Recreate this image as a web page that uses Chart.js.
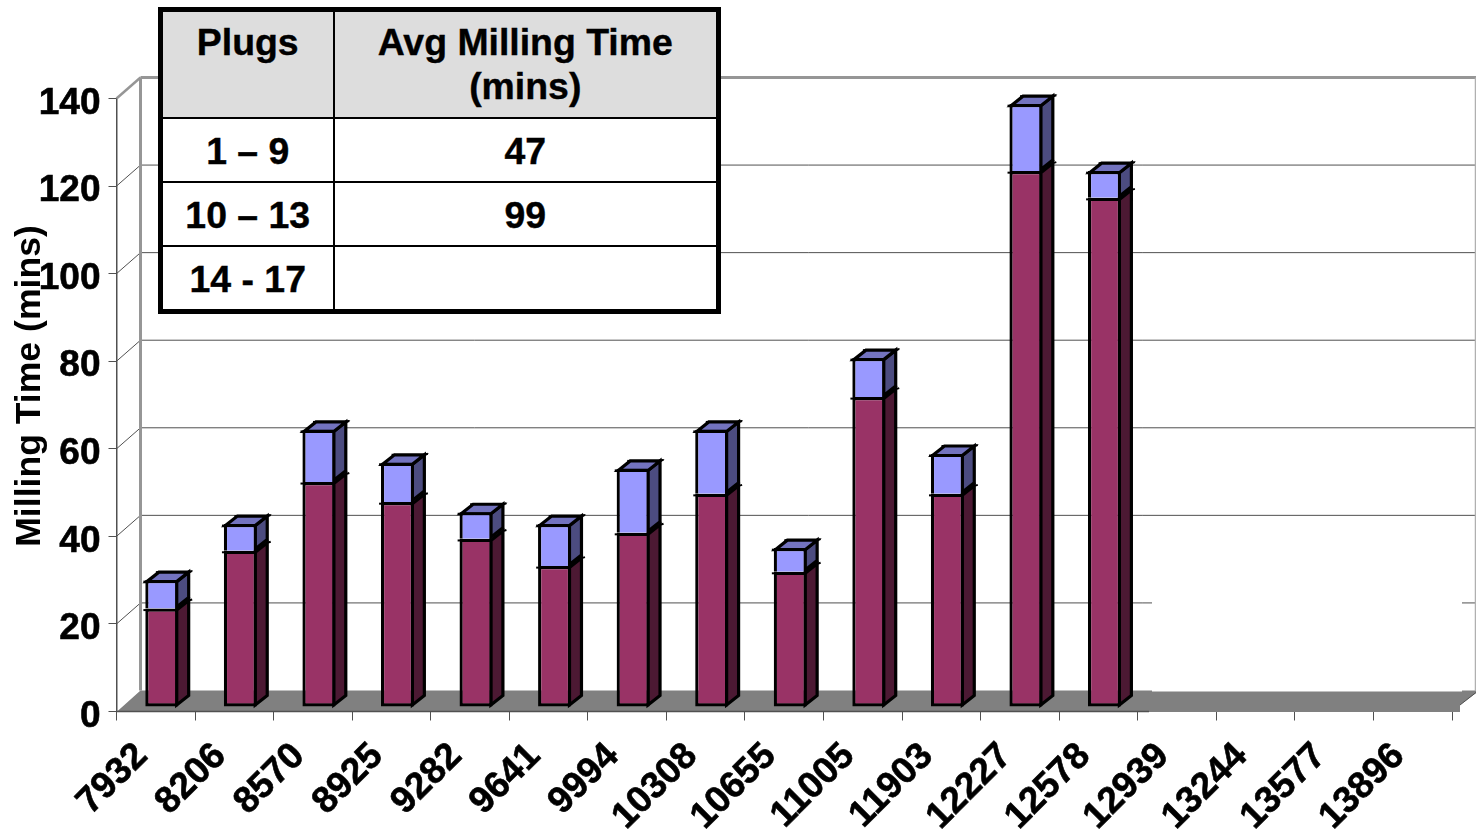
<!DOCTYPE html>
<html>
<head>
<meta charset="utf-8">
<title>Milling Time</title>
<script src="https://cdn.jsdelivr.net/npm/chart.js@4"></script>
<style>
  body { margin: 0; background: #fff; width: 1476px; height: 834px; overflow: hidden; position: relative; }
  canvas { position: absolute; left: 0; top: 0; }
  #plugTable {
    position: absolute; left: 158px; top: 7px; width: 563px;
    box-sizing: border-box; border-collapse: collapse; table-layout: fixed;
    border: 5px solid #000; background: #fff;
    font: bold 37.4px "Liberation Sans", Arial, sans-serif; color: #000; text-align: center;
    -webkit-text-stroke: 0.4px #000;
  }
  #plugTable td, #plugTable th { border: 2.5px solid #000; padding: 0; line-height: 44px; }
  #plugTable th { background: #ddd; vertical-align: top; padding-top: 8px; height: 108px; box-sizing: border-box; }
  #plugTable td { height: 64px; box-sizing: border-box; padding-top: 2px; }
  #plugTable tr:last-child td { height: 66px; }
  #plugTable .col1 { width: 173px; }
</style>
</head>
<body>
<canvas id="myChart" width="1476" height="834"></canvas>
<table id="plugTable"></table>
<script>
// === Data ===
const plugNumbers = ['7932', '8206', '8570', '8925', '9282', '9641', '9994', '10308', '10655', '11005', '11903', '12227', '12578', '12939', '13244', '13577', '13896'];
const lowerTime = [22.5, 35.7, 51.4, 46.8, 38.4, 32.2, 39.8, 48.7, 30.9, 70.8, 48.7, 122.4, 116.3, null, null, null, null];
const upperTime = [6.5, 6.1, 11.9, 9, 6.1, 9.6, 14.6, 14.6, 5.4, 8.9, 9.1, 15.3, 6.1, null, null, null, null];
const yAxisTitle = 'Milling Time (mins)';
const tableHead = ['Plugs', 'Avg Milling Time<br>(mins)'];
const tableRanges = ['1 – 9', '10 – 13', '14 - 17'];
const tableAvg = ['47', '99', ''];

// === Colors and 3D depth ===
const fontFamily = '"Liberation Sans", Arial, sans-serif';
const wallDx = 24, wallDy = -21;      // back wall offset
const barDx = 12, barDy = -9.5;       // bar depth
const barEdge = 3.2;
const gridDark = '#505050', wallGray = '#969696', floorGray = '#808080';
const faces = [
  { side: '#4c1933', top: '#732650' },
  { side: '#4c4c80', top: '#7373bf' }
];

// Table
document.getElementById('plugTable').innerHTML =
  '<tr><th class="col1">' + tableHead[0] + '</th><th>' + tableHead[1] + '</th></tr>' +
  tableRanges.map((r, i) => '<tr><td>' + r + '</td><td>' + tableAvg[i] + '</td></tr>').join('');

function line(ctx, x1, y1, x2, y2, color, width) {
  ctx.strokeStyle = color;
  ctx.lineWidth = width;
  ctx.beginPath();
  ctx.moveTo(x1, y1);
  ctx.lineTo(x2, y2);
  ctx.stroke();
}

function poly(ctx, pts, fill, stroke) {
  ctx.beginPath();
  pts.forEach((p, i) => i ? ctx.lineTo(p[0], p[1]) : ctx.moveTo(p[0], p[1]));
  ctx.closePath();
  ctx.fillStyle = fill;
  ctx.fill();
  if (stroke) {
    ctx.strokeStyle = stroke;
    ctx.lineWidth = barEdge;
    ctx.lineJoin = 'miter';
    ctx.stroke();
  }
}

// Walls, floor and grid behind the bars
const wallPlugin = {
  id: 'wall',
  beforeDatasetsDraw(chart) {
    const ctx = chart.ctx, y = chart.scales.y, a = chart.chartArea;
    const backRight = a.right + wallDx;
    ctx.save();
    y.ticks.forEach(t => {
      const py = y.getPixelForValue(t.value);
      if (t.value === 0) return;
      const top = t.value === 140;
      const col = top ? wallGray : gridDark;
      const w = top ? 3 : 1;
      line(ctx, a.left, py, a.left + wallDx, py + wallDy, col, top ? 2.5 : 1);
      line(ctx, a.left + wallDx, py + wallDy, backRight, py + wallDy, col, w);
    });
    line(ctx, a.left + wallDx, a.top + wallDy, a.left + wallDx, a.bottom + wallDy, wallGray, 3);
    line(ctx, backRight - 0.5, a.top + wallDy, backRight - 0.5, a.bottom + wallDy, '#b0b0b0', 1.5);
    // white patch over the right part of the lowest grid line
    ctx.fillStyle = '#fff';
    ctx.fillRect(1152, 598, 310, 93);
    poly(ctx, [[a.left, a.bottom + 0.5], [a.left + wallDx, a.bottom + wallDy], [1152, a.bottom + wallDy], [1152, a.bottom + wallDy + 1],
      [1462, a.bottom + wallDy + 1], [1462, a.bottom + wallDy], [backRight, a.bottom + wallDy], [backRight, 693], [1460, 705], [1460, a.bottom + 0.5]], floorGray);
    line(ctx, 1460, 705, backRight, 692.5, gridDark, 1);
    line(ctx, a.left, a.bottom, 1149, a.bottom, gridDark, 1.5);
    ctx.restore();
  }
};

// Bars are shifted into the floor and get a side and top face
const barPlugin = {
  id: 'bars3d',
  beforeDatasetsDraw(chart) {
    const ctx = chart.ctx;
    ctx.save();
    ctx.translate(6, -4.5);
    [0, 1].forEach(d => {
      chart.getDatasetMeta(d).data.forEach((bar, i) => {
        if (lowerTime[i] === null) return;
        const r = bar.x + bar.width / 2 - barEdge / 2, l = bar.x - bar.width / 2 + barEdge / 2;
        const t = bar.y + barEdge / 2, b = bar.base - barEdge / 2;
        poly(ctx, [[r, t], [r + barDx, t + barDy], [r + barDx, b + barDy], [r, b]], faces[d].side, '#000');
        if (d === 1) poly(ctx, [[l, t], [l + barDx, t + barDy], [r + barDx, t + barDy], [r, t]], faces[d].top, '#000');
      });
    });
  },
  afterDatasetsDraw(chart) {
    const ctx = chart.ctx;
    [0, 1].forEach(d => {
      chart.getDatasetMeta(d).data.forEach((bar, i) => {
        if (lowerTime[i] === null) return;
        const r = bar.x + bar.width / 2 - barEdge / 2, l = bar.x - bar.width / 2 + barEdge / 2;
        const t = bar.y + barEdge / 2;
        // little spikes where the edges overshoot the corners
        line(ctx, l - 3.5, t, l, t, '#000', 2);
        line(ctx, r + barDx, t + barDy, r + barDx + 3.5, t + barDy - 1, '#000', 2);
        if (d === 1) line(ctx, l + barDx - 3, t + barDy, l + barDx, t + barDy, '#000', 2);
      });
    });
    ctx.restore();
  }
};

// Axis title sits over the tick labels, higher than the axis center
const titlePlugin = {
  id: 'axisTitle',
  afterDraw(chart) {
    const ctx = chart.ctx;
    ctx.save();
    ctx.translate(30, 386);
    ctx.rotate(-Math.PI / 2);
    ctx.font = 'bold 35.6px ' + fontFamily;
    ctx.fillStyle = '#000';
    ctx.textAlign = 'center';
    ctx.textBaseline = 'middle';
    ctx.fillText(yAxisTitle, 0, 0);
    ctx.restore();
  }
};

const myChart = new Chart(document.getElementById('myChart'), {
  type: 'bar',
  data: {
    labels: plugNumbers,
    datasets: [
      { label: 'Lower', data: lowerTime, backgroundColor: '#993366', borderColor: '#000', borderWidth: barEdge, borderSkipped: false },
      { label: 'Upper', data: upperTime, backgroundColor: '#9999ff', borderColor: '#000', borderWidth: barEdge }
    ]
  },
  plugins: [wallPlugin, barPlugin, titlePlugin],
  options: {
    responsive: false,
    animation: false,
    layout: { padding: { top: 98.5, right: 24, left: 0, bottom: 0 } },
    plugins: { legend: { display: false }, title: { display: false }, tooltip: { enabled: false } },
    datasets: { bar: { barPercentage: 0.42, categoryPercentage: 1, clip: false } },
    scales: {
      x: {
        stacked: true,
        afterFit(scale) { scale.height = 122.5; },
        border: { display: false },
        grid: { drawOnChartArea: false, drawTicks: true, tickLength: 9, tickColor: gridDark },
        ticks: {
          autoSkip: false, minRotation: 45, maxRotation: 45, padding: 14, labelOffset: -14, color: '#000',
          textStrokeColor: '#000', textStrokeWidth: 0.6,
          font: { family: fontFamily, size: 37, weight: 'bold' }
        }
      },
      y: {
        stacked: true,
        min: 0,
        max: 140,
        afterFit(scale) { scale.width = 116.5; },
        border: { display: true, color: gridDark, width: 1.5 },
        grid: { drawOnChartArea: false, drawTicks: true, tickLength: 8, tickColor: gridDark },
        ticks: {
          stepSize: 20, padding: 8, labelOffset: 5, color: '#000',
          textStrokeColor: '#000', textStrokeWidth: 0.6,
          font: { family: fontFamily, size: 37, weight: 'bold' }
        }
      }
    }
  }
});
</script>
</body>
</html>
